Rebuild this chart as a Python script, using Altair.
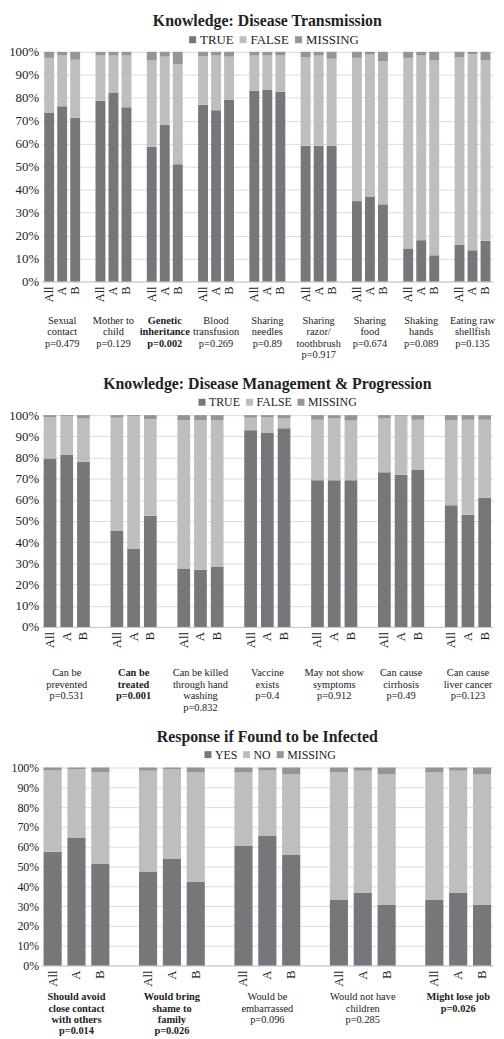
import altair as alt
import pandas as pd

FONT = "'Liberation Serif', 'Times New Roman', Times, serif"
GROUPS = ["All", "A", "B"]

# ---------------- Panel 1: Knowledge: Disease Transmission ----------------
cats1 = ["Sexual contact", "Mother to child", "Genetic inheritance", "Blood transfusion",
         "Sharing needles", "Sharing razor/toothbrush", "Sharing food", "Shaking hands",
         "Eating raw shellfish"]
labels1 = ["Sexual\ncontact\np=0.479", "Mother to\nchild\np=0.129", "Genetic\ninheritance\np=0.002",
           "Blood\ntransfusion\np=0.269", "Sharing\nneedles\np=0.89", "Sharing\nrazor/\ntoothbrush\np=0.917",
           "Sharing\nfood\np=0.674", "Shaking\nhands\np=0.089", "Eating raw\nshellfish\np=0.135"]
bold1 = [0, 0, 1, 0, 0, 0, 0, 0, 0]
# values per category: [All, A, B]
true1 = [[73.6, 76.3, 71.3], [78.7, 82.3, 75.9], [58.7, 68.1, 51.0], [77.0, 74.6, 79.1],
         [83.0, 83.4, 82.6], [59.1, 59.1, 59.1], [35.0, 37.0, 33.6], [14.4, 18.0, 11.4],
         [15.9, 13.6, 17.7]]
false1 = [[23.8, 22.1, 25.3], [19.7, 16.1, 22.5], [37.6, 29.8, 43.7], [21.1, 23.8, 18.8],
          [15.4, 15.0, 15.8], [38.5, 39.3, 37.9], [62.4, 61.9, 62.3], [83.0, 80.4, 85.0],
          [81.7, 85.4, 78.7]]
missing1 = [[2.6, 1.6, 3.4], [1.6, 1.6, 1.6], [3.7, 2.1, 5.3], [1.9, 1.6, 2.1],
            [1.6, 1.6, 1.6], [2.4, 1.6, 3.0], [2.6, 1.1, 4.1], [2.6, 1.6, 3.6],
            [2.4, 1.0, 3.6]]

# ---------------- Panel 2: Knowledge: Disease Management & Progression ----------------
cats2 = ["Can be prevented", "Can be treated", "Can be killed through hand washing",
         "Vaccine exists", "May not show symptoms", "Can cause cirrhosis", "Can cause liver cancer"]
labels2 = ["Can be\nprevented\np=0.531", "Can be\ntreated\np=0.001",
           "Can be killed\nthrough hand\nwashing\np=0.832", "Vaccine\nexists\np=0.4",
           "May not show\nsymptoms\np=0.912", "Can cause\ncirrhosis\np=0.49",
           "Can cause\nliver cancer\np=0.123"]
bold2 = [0, 1, 0, 0, 0, 0, 0]
true2 = [[79.5, 81.2, 78.0], [45.5, 37.0, 52.5], [27.6, 27.0, 28.3], [92.9, 91.8, 93.8],
         [69.3, 69.3, 69.3], [73.0, 71.9, 74.1], [57.5, 53.0, 61.0]]
false2 = [[19.4, 18.2, 20.4], [53.3, 62.4, 45.6], [70.1, 70.7, 69.4], [5.9, 7.3, 4.6],
          [28.5, 29.1, 28.1], [25.4, 27.5, 23.7], [40.2, 44.8, 36.8]]
missing2 = [[1.1, 0.6, 1.6], [1.2, 0.6, 1.9], [2.3, 2.3, 2.3], [1.2, 0.9, 1.6],
            [2.2, 1.6, 2.6], [1.6, 0.6, 2.2], [2.3, 2.2, 2.2]]

# ---------------- Panel 3: Response if Found to be Infected ----------------
cats3 = ["Should avoid close contact with others", "Would bring shame to family",
         "Would be embarrassed", "Would not have children", "Might lose job"]
labels3 = ["Should avoid\nclose contact\nwith others\np=0.014", "Would bring\nshame to\nfamily\np=0.026",
           "Would be\nembarrassed\np=0.096", "Would not have\nchildren\np=0.285", "Might lose job\np=0.026"]
bold3 = [1, 1, 0, 0, 1]
yes3 = [[57.4, 64.6, 51.5], [47.5, 54.0, 42.2], [60.3, 65.7, 56.0], [33.1, 36.6, 30.5],
        [33.1, 36.6, 30.5]]
no3 = [[41.1, 34.6, 46.2], [50.9, 45.2, 55.5], [37.4, 33.0, 40.7], [64.6, 61.8, 66.2],
       [64.6, 61.8, 66.2]]
missing3 = [[1.5, 0.8, 2.3], [1.6, 0.8, 2.3], [2.3, 1.3, 3.3], [2.3, 1.6, 3.3],
            [2.3, 1.6, 3.3]]

COLORS = ["#76777a", "#bdbec0", "#949598"]
TEXT = "#222222"


def panel(title, cats, labels, bold, series_names, series_vals, H, W,
          pin, pout, ylab_size, grp_size, cat_size, cat_y, legend_x, legend_size):
    rows = []
    for ci, c in enumerate(cats):
        for gi, g in enumerate(GROUPS):
            for si, s in enumerate(series_names):
                rows.append({"cat": c, "grp": g, "series": s, "ord": si,
                             "val": series_vals[si][ci][gi]})
    df = pd.DataFrame(rows)
    dgrp = pd.DataFrame([{"cat": c, "grp": g} for c in cats for g in GROUPS])
    dcat = pd.DataFrame({"cat": cats, "label": labels, "bold": bold})

    xenc = alt.X("cat:N", sort=cats, title=None,
                 scale=alt.Scale(paddingInner=pin, paddingOuter=pout),
                 axis=alt.Axis(labels=False, ticks=False, grid=False,
                               domainColor="#c8c8c8"))
    xoff = alt.XOffset("grp:N", sort=GROUPS, scale=alt.Scale(paddingInner=0.24))

    bars = alt.Chart(df).mark_bar().encode(
        x=xenc,
        xOffset=xoff,
        y=alt.Y("val:Q", stack="zero", title=None,
                scale=alt.Scale(domain=[0, 100], nice=False),
                axis=alt.Axis(values=list(range(0, 101, 10)), labelExpr="datum.value + '%'",
                              ticks=False, domain=False, gridColor="#dcdcdc",
                              labelFont=FONT, labelFontSize=ylab_size, labelColor=TEXT,
                              labelPadding=3)),
        color=alt.Color("series:N", scale=alt.Scale(domain=series_names, range=COLORS),
                        legend=alt.Legend(title=None, orient="none", direction="horizontal",
                                          legendX=legend_x, legendY=-19,
                                          symbolType="square", symbolSize=50,
                                          symbolStrokeWidth=0, labelFont=FONT,
                                          labelFontSize=legend_size, labelColor=TEXT,
                                          labelOffset=1, columnPadding=3)),
        order=alt.Order("ord:Q"),
    )

    grp_text = alt.Chart(dgrp).mark_text(
        angle=270, align="right", baseline="middle", font=FONT,
        fontSize=grp_size, color=TEXT
    ).encode(
        x=alt.X("cat:N", sort=cats),
        xOffset=alt.XOffset("grp:N", sort=GROUPS),
        y=alt.value(H + 5),
        text="grp:N",
    )

    cat_norm = alt.Chart(dcat).transform_filter("datum.bold == 0").mark_text(
        baseline="top", align="center", lineBreak="\n", font=FONT,
        fontSize=cat_size, lineHeight=11.5, color=TEXT
    ).encode(x=alt.X("cat:N", sort=cats), y=alt.value(H + cat_y), text="label:N")

    cat_bold = alt.Chart(dcat).transform_filter("datum.bold == 1").mark_text(
        baseline="top", align="center", lineBreak="\n", font=FONT,
        fontSize=cat_size, lineHeight=11.5, color=TEXT, fontWeight="bold"
    ).encode(x=alt.X("cat:N", sort=cats), y=alt.value(H + cat_y), text="label:N")

    return alt.layer(bars, grp_text, cat_norm, cat_bold).properties(
        width=W, height=H,
        title=alt.TitleParams(text=title, font=FONT, fontSize=16, fontWeight="bold",
                              anchor="middle", frame="group", color=TEXT, offset=4),
    )


W = 456
p1 = panel("Knowledge: Disease Transmission", cats1, labels1, bold1,
           ["TRUE", "FALSE", "MISSING"], [true1, false1, missing1],
           H=232, W=W, pin=0.30, pout=0.05, ylab_size=13, grp_size=12.5, cat_size=10.5,
           cat_y=35, legend_x=146, legend_size=13)
p2 = panel("Knowledge: Disease Management & Progression", cats2, labels2, bold2,
           ["TRUE", "FALSE", "MISSING"], [true2, false2, missing2],
           H=214, W=W, pin=0.31, pout=0.03, ylab_size=13, grp_size=13, cat_size=10.5,
           cat_y=42, legend_x=156, legend_size=12)
p3 = panel("Response if Found to be Infected", cats3, labels3, bold3,
           ["YES", "NO", "MISSING"], [yes3, no3, missing3],
           H=200, W=W, pin=0.31, pout=0.02, ylab_size=12, grp_size=13, cat_size=10.5,
           cat_y=27, legend_x=162, legend_size=12)

chart = alt.vconcat(p1, p2, p3, spacing=16).resolve_scale(
    color="independent", x="independent", xOffset="independent"
).properties(padding=0).configure_view(stroke=None)

chart.save("out.html", embed_options={"renderer": "svg", "actions": False})
